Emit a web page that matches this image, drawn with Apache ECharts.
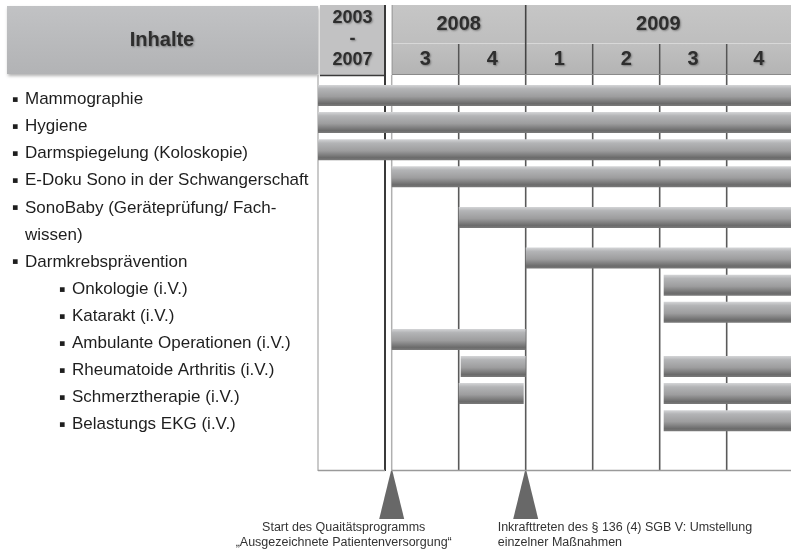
<!DOCTYPE html>
<html>
<head>
<meta charset="utf-8">
<script src="https://cdn.jsdelivr.net/npm/echarts@6/dist/echarts.min.js"></script>
<style>
  html, body { margin: 0; padding: 0; background: #fff; }
  #chart { width: 791px; height: 551px; }
</style>
</head>
<body>
<div id="chart"></div>
<script>
// Zeilen (Inhalte) – 0 = Hauptpunkt, 1 = Unterpunkt, 2 = Fortsetzungszeile
const rowLabels = [
  'Mammographie', 'Hygiene', 'Darmspiegelung (Koloskopie)',
  'E-Doku Sono in der Schwangerschaft', 'SonoBaby (Geräteprüfung/ Fach-', 'wissen)',
  'Darmkrebsprävention', 'Onkologie (i.V.)', 'Katarakt (i.V.)',
  'Ambulante Operationen (i.V.)', 'Rheumatoide Arthritis (i.V.)',
  'Schmerztherapie (i.V.)', 'Belastungs EKG (i.V.)'
]
const rowLevels = [0, 0, 0, 0, 0, 2, 0, 1, 1, 1, 1, 1, 1]

// Zeitachse in Quartalen: 0 = 2008/Q3, Spalte 2003-2007 liegt links davor
const periodStart = -1.1
const periodEnd = -0.1
const axisEnd = 5.96
const quarterLabels = ['3', '4', '1', '2', '3', '4']
const yearLabels = ['2008', '2009']
const yearStarts = [0, 2]
const yearEnds = [2, 6]

// Balken: Zeile, Beginn, Ende (Quartale)
const barRows = [0, 1, 2, 3, 4.5, 6, 7, 8, 9, 10, 10, 11, 11, 12]
const barStarts = [-1.1, -1.1, -1.1, 0, 1, 2, 4.06, 4.06, 0, 1.03, 4.06, 1, 4.06, 4.06]
const barEnds = [6, 6, 6, 6, 6, 6, 6, 6, 2, 2, 6, 1.97, 6, 6]

// senkrechte Spaltenlinien
const columnLines = [-1.1, -0.1, 0, 1, 2, 3, 4, 5]

// Ereignisse unter dem Diagramm
const eventAt = [0, 2]
const eventTexts = [
  ['Start des Quaitätsprogramms', '„Ausgezeichnete Patientenversorgung“'],
  ['Inkrafttreten des § 136 (4) SGB V: Umstellung', 'einzelner Maßnahmen']
]

const FONT = '"Liberation Sans", Arial, sans-serif'
const rowMin = -0.904
const rowMax = 13.708

const chart = echarts.init(document.getElementById('chart'))

const barFill = new echarts.graphic.LinearGradient(0, 0, 0, 1, [
  { offset: 0, color: '#d4d5d7' },
  { offset: 0.18, color: '#b3b4b6' },
  { offset: 0.55, color: '#9d9d9e' },
  { offset: 0.88, color: '#6b6b6b' },
  { offset: 1, color: '#7a7a7a' }
])

const renderBar = (params, api) => {
  const a = api.coord([api.value(0), api.value(2)])
  const b = api.coord([api.value(1), api.value(2)])
  const h = 21
  const cs = params.coordSys
  const shape = echarts.graphic.clipRectByRect(
    { x: a[0], y: a[1] - h / 2 - 4, width: b[0] - a[0], height: h },
    { x: cs.x, y: cs.y, width: cs.width, height: cs.height }
  )
  return shape && { type: 'rect', shape: shape, style: { fill: barFill } }
}

const renderColumn = (params, api) => {
  const v = api.value(0)
  const i = params.dataIndex
  const top = api.coord([v, rowMin])
  const bottom = api.coord([v, rowMax])
  let stroke = '#5a5a5a', w = 1.6
  if (i === 0) { stroke = '#b8b8b8'; w = 1.5 }
  if (i === 1) { stroke = '#3a3a3a'; w = 2 }
  if (i === 2) { stroke = '#b0b0b0'; w = 1.5 }
  return {
    type: 'line',
    shape: { x1: top[0], y1: top[1], x2: bottom[0], y2: bottom[1] },
    style: { stroke: stroke, lineWidth: w }
  }
}

const renderBase = (params, api) => {
  const a = api.coord([api.value(0), rowMax])
  const b = api.coord([api.value(1), rowMax])
  return {
    type: 'line',
    shape: { x1: a[0], y1: a[1] - 0.5, x2: b[0], y2: b[1] - 0.5 },
    style: { stroke: '#9a9a9a', lineWidth: 1.5 }
  }
}

const option = {
  animation: false,
  grid: [
    { left: 318, right: 0, top: 75, bottom: 80 },
    { left: 0, width: 318, top: 86, height: 352 }
  ],
  xAxis: [
    { type: 'value', gridIndex: 0, min: periodStart, max: axisEnd, show: false },
    { type: 'value', gridIndex: 1, show: false }
  ],
  yAxis: [
    { type: 'value', gridIndex: 0, inverse: true, min: rowMin, max: rowMax, show: false },
    {
      type: 'category',
      gridIndex: 1,
      inverse: true,
      data: rowLabels,
      axisLine: { show: false },
      axisTick: { show: false },
      splitLine: { show: false },
      axisLabel: {
        inside: true,
        margin: 12,
        interval: 0,
        fontFamily: FONT,
        formatter: (v, i) => {
          if (rowLevels[i] === 1) return '{sb|▪}{t|' + v + '}'
          if (rowLevels[i] === 2) return '{c|' + v + '}'
          return '{b|▪}{t|' + v + '}'
        },
        rich: {
          b: { fontSize: 9.5, width: 13, color: '#1e1e1e', fontFamily: 'DejaVu Sans' },
          sb: { fontSize: 9.5, width: 13, padding: [0, 0, 0, 47], color: '#1e1e1e', fontFamily: 'DejaVu Sans' },
          t: { fontSize: 17, color: '#1e1e1e', fontFamily: FONT },
          c: { fontSize: 17, color: '#1e1e1e', fontFamily: FONT, padding: [0, 0, 0, 13] }
        }
      }
    }
  ],
  series: [
    {
      name: 'columns',
      type: 'custom',
      xAxisIndex: 0,
      yAxisIndex: 0,
      z: 1,
      silent: true,
      renderItem: renderColumn,
      data: columnLines.map(v => [v]),
      encode: { x: 0 }
    },
    {
      name: 'base',
      type: 'custom',
      xAxisIndex: 0,
      yAxisIndex: 0,
      z: 1,
      silent: true,
      renderItem: renderBase,
      data: [[periodStart, periodEnd], [0, axisEnd]],
      encode: { x: [0, 1] }
    },
    {
      name: 'bars',
      type: 'custom',
      xAxisIndex: 0,
      yAxisIndex: 0,
      z: 3,
      renderItem: renderBar,
      data: barRows.map((r, i) => [barStarts[i], barEnds[i], r]),
      encode: { x: [0, 1], y: 2 }
    }
  ]
}
chart.setOption(option)

// Kopfzeile und Ereignismarken aus der x-Skala ableiten
const px = v => chart.convertToPixel({ xAxisIndex: 0 }, v)
const txtShadow = { textShadowColor: 'rgba(0,0,0,0.35)', textShadowBlur: 2, textShadowOffsetX: 1, textShadowOffsetY: 1 }
const graphic = []

graphic.push({
  type: 'rect',
  shape: { x: 7, y: 6, width: 311, height: 68 },
  style: {
    fill: new echarts.graphic.LinearGradient(0, 0, 0, 1, [
      { offset: 0, color: '#c1c2c4' }, { offset: 1, color: '#b2b3b5' }
    ]),
    shadowColor: 'rgba(0,0,0,0.3)', shadowBlur: 3, shadowOffsetX: 1, shadowOffsetY: 2
  }
})
graphic.push({
  type: 'text', x: 162, y: 40,
  style: Object.assign({ text: 'Inhalte', font: 'bold 20px ' + FONT, fill: '#2e2e2e', align: 'center', verticalAlign: 'middle' }, txtShadow)
})

// Spalte 2003-2007
const p0 = px(periodStart), p1 = px(periodEnd)
graphic.push({
  type: 'rect',
  shape: { x: p0 + 2, y: 5, width: p1 - p0 - 2, height: 70 },
  style: { fill: '#c2c2c3' }
})
graphic.push({ type: 'line', shape: { x1: p1, y1: 5, x2: p1, y2: 76 }, style: { stroke: '#3a3a3a', lineWidth: 2 } })
graphic.push({ type: 'line', shape: { x1: p0 + 2, y1: 75.5, x2: p1 + 1, y2: 75.5 }, style: { stroke: '#3a3a3a', lineWidth: 1.5 } })
;['2003', '-', '2007'].forEach((t, i) => {
  graphic.push({
    type: 'text', x: (p0 + p1) / 2 + 1, y: 18 + i * 21,
    style: Object.assign({ text: t, font: 'bold 18px ' + FONT, fill: '#2e2e2e', align: 'center', verticalAlign: 'middle' }, txtShadow)
  })
})

// Jahre und Quartale
const q0 = px(0), qEnd = px(axisEnd)
graphic.push({
  type: 'rect',
  shape: { x: q0, y: 5, width: qEnd - q0, height: 38 },
  style: { fill: new echarts.graphic.LinearGradient(0, 0, 0, 1, [
    { offset: 0, color: '#c6c6c6' }, { offset: 1, color: '#bebebe' }
  ]) }
})
graphic.push({
  type: 'rect',
  shape: { x: q0, y: 44, width: qEnd - q0, height: 30 },
  style: { fill: new echarts.graphic.LinearGradient(0, 0, 0, 1, [
    { offset: 0, color: '#c0c0c0' }, { offset: 1, color: '#b4b4b4' }
  ]) }
})
graphic.push({ type: 'line', shape: { x1: q0, y1: 43.5, x2: qEnd, y2: 43.5 }, style: { stroke: '#d8d8d8', lineWidth: 1 } })
graphic.push({ type: 'line', shape: { x1: q0, y1: 74.5, x2: qEnd, y2: 74.5 }, style: { stroke: '#8a8a8a', lineWidth: 1 } })
graphic.push({ type: 'line', shape: { x1: q0 + 0.5, y1: 5, x2: q0 + 0.5, y2: 74 }, style: { stroke: '#9a9a9a', lineWidth: 1 } })

yearLabels.forEach((y, i) => {
  const a = px(yearStarts[i]), b = Math.min(px(yearEnds[i]), qEnd)
  if (i > 0) {
    graphic.push({ type: 'line', shape: { x1: a, y1: 5, x2: a, y2: 74 }, style: { stroke: '#444', lineWidth: 1.6 } })
  }
  graphic.push({
    type: 'text', x: (a + b) / 2, y: 24,
    style: Object.assign({ text: y, font: 'bold 20px ' + FONT, fill: '#2e2e2e', align: 'center', verticalAlign: 'middle' }, txtShadow)
  })
})
quarterLabels.forEach((q, i) => {
  const a = px(i), b = Math.min(px(i + 1), qEnd)
  if (i > 0 && i !== 2) {
    graphic.push({ type: 'line', shape: { x1: a, y1: 44, x2: a, y2: 74 }, style: { stroke: '#555', lineWidth: 1.5 } })
  }
  graphic.push({
    type: 'text', x: (a + b) / 2, y: 59,
    style: Object.assign({ text: q, font: 'bold 20px ' + FONT, fill: '#2e2e2e', align: 'center', verticalAlign: 'middle' }, txtShadow)
  })
})

// Ereignisse
const textDx = [-48, -28]
const textAlign = ['center', 'left']
eventAt.forEach((e, i) => {
  const x = px(e)
  graphic.push({
    type: 'polygon',
    shape: { points: [[x, 468], [x - 12.5, 519], [x + 12.5, 519]] },
    style: { fill: '#686868' }
  })
  eventTexts[i].forEach((t, j) => {
    graphic.push({
      type: 'text', x: x + textDx[i], y: 528 + j * 15,
      style: { text: t, font: '12.5px ' + FONT, fill: '#333', align: textAlign[i], verticalAlign: 'middle' }
    })
  })
})

chart.setOption({ graphic: graphic })
</script>
</body>
</html>
